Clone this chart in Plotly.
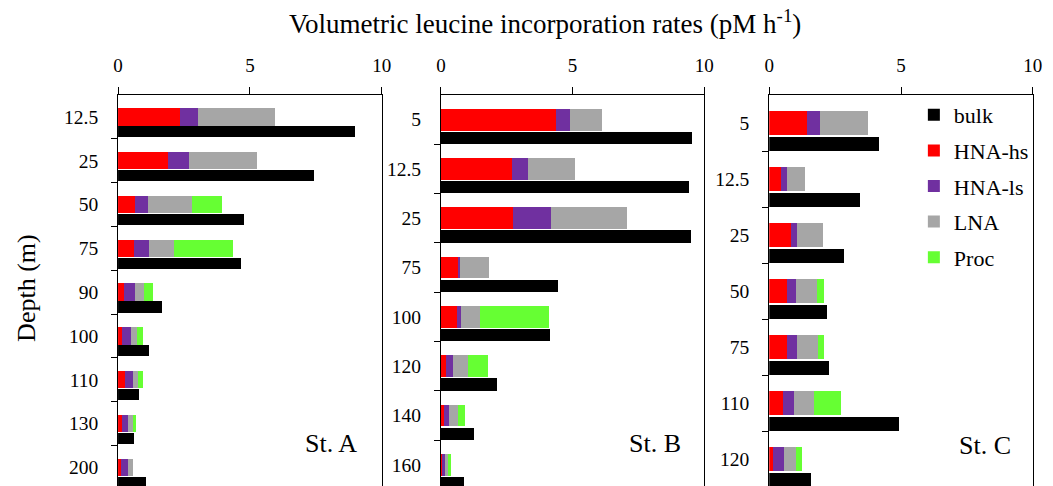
import plotly.graph_objects as go

# ---------------- data ----------------
depth_A = ["12.5", "25", "50", "75", "90", "100", "110", "130", "200"]
hs_A    = [2.34, 1.90, 0.65, 0.62, 0.21, 0.17, 0.25, 0.14, 0.10]
ls_A    = [0.69, 0.80, 0.49, 0.56, 0.44, 0.34, 0.30, 0.22, 0.26]
lna_A   = [2.92, 2.57, 1.66, 0.96, 0.34, 0.20, 0.21, 0.19, 0.21]
proc_A  = [0.00, 0.00, 1.13, 2.21, 0.33, 0.22, 0.17, 0.12, 0.00]
bulk_A  = [8.98, 7.42, 4.79, 4.68, 1.66, 1.18, 0.78, 0.61, 1.07]

depth_B = ["5", "12.5", "25", "75", "100", "120", "140", "160"]
hs_B    = [4.38, 2.70, 2.73, 0.65, 0.60, 0.18, 0.11, 0.05]
ls_B    = [0.51, 0.61, 1.45, 0.09, 0.15, 0.28, 0.18, 0.11]
lna_B   = [1.24, 1.78, 2.90, 1.08, 0.73, 0.55, 0.35, 0.10]
proc_B  = [0.00, 0.00, 0.00, 0.00, 2.64, 0.78, 0.27, 0.11]
bulk_B  = [9.54, 9.44, 9.51, 4.45, 4.16, 2.13, 1.26, 0.86]

depth_C = ["5", "12.5", "25", "50", "75", "110", "120"]
hs_C    = [1.46, 0.47, 0.85, 0.70, 0.67, 0.54, 0.14]
ls_C    = [0.47, 0.20, 0.22, 0.34, 0.39, 0.42, 0.42]
lna_C   = [1.82, 0.71, 0.99, 0.78, 0.80, 0.75, 0.48]
proc_C  = [0.00, 0.00, 0.00, 0.27, 0.21, 1.01, 0.23]
bulk_C  = [4.19, 3.44, 2.86, 2.21, 2.28, 4.93, 1.60]

stations = ["St. A", "St. B", "St. C"]
x_ticks = [0, 5, 10]

# ---------------- styling ----------------
FONT = "Liberation Serif"
W, H = 1053, 486
TOP = 95
colors = {"bulk": "#000000", "HNA-hs": "#FF0000", "HNA-ls": "#7030A0",
          "LNA": "#A6A6A6", "Proc": "#66FF33"}

panels = [
    dict(depth=depth_A, hs=hs_A, ls=ls_A, lna=lna_A, proc=proc_A, bulk=bulk_A,
         px=(114.7, 382.3), cat=43.8, sw=0.40, bo=0.34, bw=0.26, lab=(330.5, 443),
         border="black"),
    dict(depth=depth_B, hs=hs_B, ls=ls_B, lna=lna_B, proc=proc_B, bulk=bulk_B,
         px=(442.3, 709.3), cat=49.3, sw=0.44, bo=0.37, bw=0.25, lab=(659, 443.5),
         border="black"),
    dict(depth=depth_C, hs=hs_C, ls=ls_C, lna=lna_C, proc=proc_C, bulk=bulk_C,
         px=(775.3, 1042.7), cat=56.0, sw=0.43, bo=0.38, bw=0.25, lab=(994.5, 445),
         border="black"),
]

fig = go.Figure()
layout = dict(
    width=W, height=H,
    margin=dict(l=0, r=0, t=TOP, b=0, pad=0),
    paper_bgcolor="white", plot_bgcolor="white",
    barmode="stack", bargap=0,
    showlegend=True,
    font=dict(family=FONT, color="black", size=19),
)

annotations = []
for k, p in enumerate(panels):
    sfx = "" if k == 0 else str(k + 1)
    xa, ya = "x" + sfx, "y" + sfx
    n = len(p["depth"])
    idx = list(range(n))
    bulk_pos = [i + p["bo"] for i in idx]
    first = (k == 0)
    fig.add_trace(go.Bar(
        x=p["bulk"], y=bulk_pos, orientation="h", width=p["bw"], name="bulk",
        marker=dict(color=colors["bulk"], line=dict(width=0)),
        xaxis=xa, yaxis=ya, legendgroup="bulk", showlegend=first, legendrank=1))
    for rank, (name, vals) in enumerate([("HNA-hs", p["hs"]), ("HNA-ls", p["ls"]),
                                         ("LNA", p["lna"]), ("Proc", p["proc"])]):
        fig.add_trace(go.Bar(
            x=vals, y=idx, orientation="h", width=p["sw"], name=name,
            marker=dict(color=colors[name], line=dict(width=0)),
            xaxis=xa, yaxis=ya, legendgroup=name, showlegend=first,
            legendrank=rank + 2))

    x0, x1 = p["px"]
    span = (H - TOP) / p["cat"]
    layout["xaxis" + sfx] = dict(
        domain=[x0 / W, x1 / W], range=[0, 10], side="top", anchor=ya,
        tickmode="array", tickvals=x_ticks, ticks="outside", ticklen=7,
        tickcolor="black", tickwidth=1, showline=True, linecolor="black",
        linewidth=1, showgrid=False, zeroline=False, fixedrange=True,
        tickfont=dict(family=FONT, size=19, color="black"),
        ticklabelstandoff=7)
    layout["yaxis" + sfx] = dict(
        domain=[0, 1], range=[-0.5 + span, -0.5], anchor=xa,
        tickmode="array", tickvals=idx, ticktext=p["depth"], ticks="",
        showline=True, linecolor=p["border"], linewidth=1, mirror=True,
        showgrid=False, zeroline=False, fixedrange=True,
        tickfont=dict(family=FONT, size=19.5, color="black"),
        ticklabelstandoff=15,
        minor=dict(tickmode="array", tickvals=[i + 0.5 for i in idx],
                   ticks="outside", ticklen=6, tickcolor="black", tickwidth=1,
                   showgrid=False))
    lx, ly = p["lab"]
    annotations.append(dict(
        text=stations[k], xref="paper", yref="paper", x=lx / W,
        y=(H - ly) / (H - TOP), xanchor="center", yanchor="middle",
        showarrow=False, font=dict(family=FONT, size=26, color="black")))

annotations.append(dict(
    text="Volumetric leucine incorporation rates (pM h<sup>-1</sup>)",
    xref="paper", yref="paper", x=548 / W, y=(H - 22) / (H - TOP),
    xanchor="center", yanchor="middle", showarrow=False,
    font=dict(family=FONT, size=27, color="black")))
annotations.append(dict(
    text="Depth (m)", xref="paper", yref="paper", x=21.7 / W,
    y=(H - 287.5) / (H - TOP), xanchor="center", yanchor="middle",
    textangle=-90, showarrow=False,
    font=dict(family=FONT, size=26, color="black")))

layout["annotations"] = annotations
layout["legend"] = dict(
    x=922 / W, y=(H - 94) / (H - TOP), xanchor="left", yanchor="top",
    bgcolor="rgba(0,0,0,0)", borderwidth=0, traceorder="grouped",
    tracegroupgap=4, font=dict(family=FONT, size=22, color="black"),
    itemclick=False, itemdoubleclick=False)

fig.update_layout(**layout)
fig.write_html("out.html")
